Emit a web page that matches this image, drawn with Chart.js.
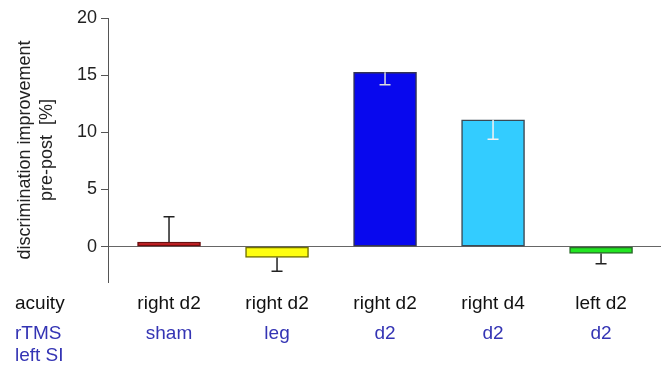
<!DOCTYPE html>
<html>
<head>
<meta charset="utf-8">
<script src="https://cdn.jsdelivr.net/npm/chart.js@4/dist/chart.umd.min.js"></script>
<style>
  html, body { margin: 0; padding: 0; background: #fff; }
  #wrap { width: 661px; height: 370px; }
</style>
</head>
<body>
<div id="wrap"><canvas id="c" width="661" height="370"></canvas></div>
<script>
// Conditions: tested hand/finger and stimulation site
const acuityLabels = ['right d2', 'right d2', 'right d2', 'right d4', 'left d2'];
const rtmsLabels = ['sham', 'leg', 'd2', 'd2', 'd2'];
const rowNames = ['acuity', 'rTMS', 'left SI'];

// Mean discrimination improvement (%) and error bar length
const improvement = [0.4, -0.95, 15.25, 11.1, -0.6];
const errorSize = [2.2, 1.2, 1.1, 1.7, 0.9];
const errorDirection = [1, -1, -1, -1, -1];

const yTicks = [0, 5, 10, 15, 20];

const barColors = ['#c21a1e', '#ffff10', '#0808ee', '#33ccff', '#22e622'];
const barBorders = ['#6a1010', '#707000', '#333355', '#3a4a55', '#2a6a2a'];
const errorColors = ['#222222', '#222222', '#dcdcdc', '#f2f2f2', '#222222'];

const FONT = "'Liberation Sans', Arial, sans-serif";
const BLUE_TEXT = '#3434b4';

const errorBars = {
  id: 'errorBars',
  afterDatasetsDraw(chart) {
    const { ctx, scales: { x, y } } = chart;
    ctx.save();
    ctx.lineWidth = 1.5;
    improvement.forEach((v, i) => {
      const px = x.getPixelForValue(i);
      const y0 = y.getPixelForValue(v);
      const y1 = y.getPixelForValue(v + errorDirection[i] * errorSize[i]);
      ctx.strokeStyle = errorColors[i];
      ctx.beginPath();
      ctx.moveTo(px, y0);
      ctx.lineTo(px, y1);
      ctx.moveTo(px - 5.5, y1);
      ctx.lineTo(px + 5.5, y1);
      ctx.stroke();
    });
    ctx.restore();
  }
};

const conditionRows = {
  id: 'conditionRows',
  afterDraw(chart) {
    const { ctx, scales: { x } } = chart;
    ctx.save();
    ctx.font = '19px ' + FONT;
    ctx.textBaseline = 'middle';
    ctx.textAlign = 'left';
    ctx.fillStyle = '#111';
    ctx.fillText(rowNames[0], 15, 304);
    ctx.fillStyle = BLUE_TEXT;
    ctx.fillText(rowNames[1], 15, 334);
    ctx.fillText(rowNames[2], 15, 356);
    ctx.textAlign = 'center';
    acuityLabels.forEach((t, i) => {
      ctx.fillStyle = '#111';
      ctx.fillText(t, x.getPixelForValue(i), 304);
      ctx.fillStyle = BLUE_TEXT;
      ctx.fillText(rtmsLabels[i], x.getPixelForValue(i), 334);
    });
    ctx.restore();
  }
};

new Chart(document.getElementById('c'), {
  type: 'bar',
  data: {
    datasets: [{
      data: improvement.map((v, i) => ({ x: i, y: v })),
      backgroundColor: barColors,
      borderColor: barBorders,
      borderWidth: 1.5,
      borderSkipped: false,
      barThickness: 63
    }]
  },
  options: {
    responsive: false,
    animation: false,
    layout: { padding: { top: 18, right: 0, bottom: 88, left: 0 } },
    plugins: { legend: { display: false }, tooltip: { enabled: false } },
    scales: {
      x: {
        type: 'linear',
        display: false,
        offset: false,
        min: -0.565,
        max: 4.555
      },
      y: {
        min: -3.1,
        max: 20,
        afterBuildTicks: s => { s.ticks = yTicks.map(v => ({ value: v })); },
        afterFit: s => { s.width = 108; },
        border: { display: true, color: '#555', width: 1 },
        grid: {
          drawOnChartArea: true,
          color: c => (c.tick && c.tick.value === 0 ? '#666' : 'rgba(0,0,0,0)'),
          tickColor: '#555',
          tickLength: 7,
          lineWidth: 1
        },
        ticks: {
          color: '#222',
          padding: 4,
          font: { family: FONT, size: 18 }
        },
        title: {
          display: true,
          text: ['discrimination improvement', 'pre-post  [%]'],
          color: '#222',
          font: { family: FONT, size: 18, lineHeight: 1.22 },
          padding: { top: 14, bottom: 0 }
        }
      }
    }
  },
  plugins: [errorBars, conditionRows]
});
</script>
</body>
</html>
